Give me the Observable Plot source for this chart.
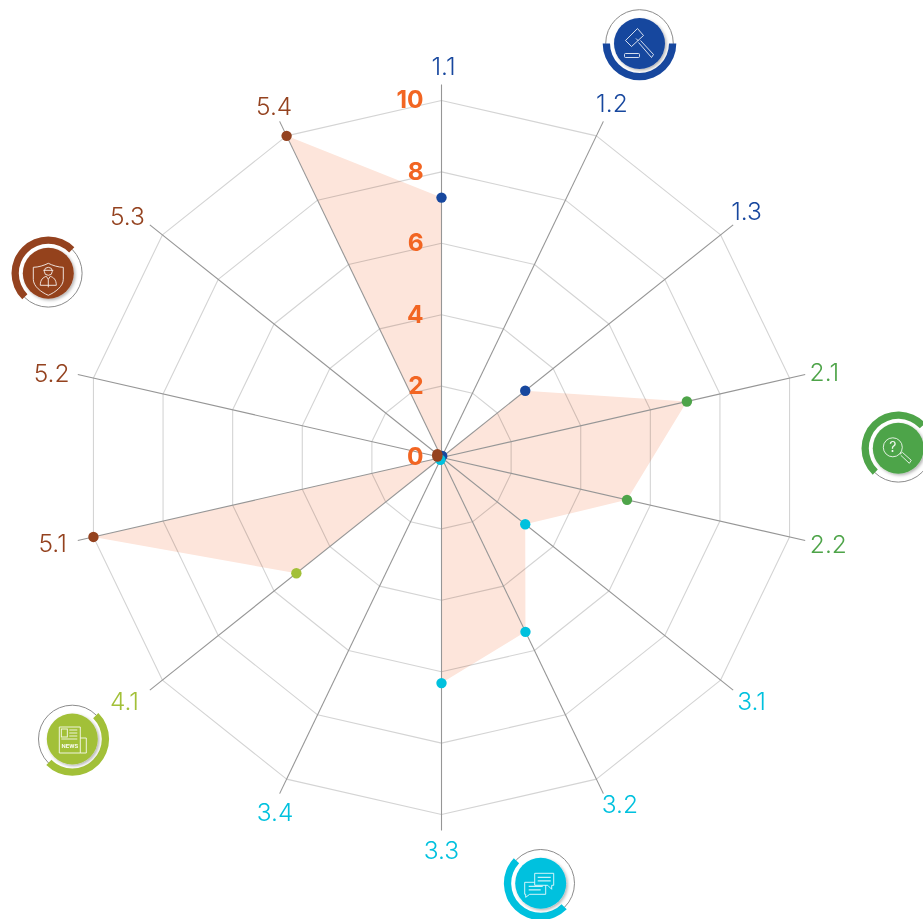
<!DOCTYPE html>
<html><head><meta charset="utf-8">
<style>html,body{margin:0;padding:0;background:#fff}svg{display:block}</style>
<script src="https://cdn.jsdelivr.net/npm/d3@7"></script>
<script src="https://cdn.jsdelivr.net/npm/@observablehq/plot@0.6"></script>
</head><body><div id="chart"></div>
<script>
const categories=["1.1","1.2","1.3","2.1","2.2","3.1","3.2","3.3","3.4","4.1","5.1","5.2","5.3","5.4"];
const values=[7.28,0,3.0,7.05,5.33,3.0,5.42,6.32,0,5.2,10,0,0,10];
const dotValues=[7.28,0.05,3.0,7.05,5.33,3.0,5.42,6.32,0.07,5.2,10,0.12,0.15,10];
const groups=["1","1","1","2","2","3","3","3","3","4","5","5","5","5"];
const ringTicks=[2,4,6,8,10];
const tickLabels=[0,2,4,6,8,10];
const groupColors={"1":"#17479e","2":"#4ea449","3":"#00c1de","4":"#a2c038","5":"#94421f"};
const labelNudgeX=[2,0,-2,0,4,3,8,0,4,-10,-6,-7,-7,3];
const labelNudgeY=[2,0,0,3,0,0,-6,1,2,0,-1,4,5,3];

const W=923,H=919,CX=441,CY=457,U=35.7;
const ang=i=>i*2*Math.PI/categories.length;
const px=(v,i)=>v*Math.sin(ang(i)), py=(v,i)=>v*Math.cos(ang(i));
const idx=categories.map((_,i)=>i);
const font="Inter, 'Noto Sans', sans-serif";

const rings=ringTicks.flatMap(t=>idx.map(i=>({t,x:px(t,i),y:py(t,i)})));
const shape=idx.map(i=>({x:px(values[i],i),y:py(values[i],i)}));
const spokes=idx.map(i=>({x:px(10.45,i),y:py(10.45,i)}));
const points=idx.map(i=>({x:px(dotValues[i],i),y:py(dotValues[i],i),c:groupColors[groups[i]]}));
const labels=idx.map(i=>({x:px(11,i)+labelNudgeX[i]/U,y:py(11,i)-labelNudgeY[i]/U,c:groupColors[groups[i]],s:categories[i]}));

const icons=[
 {k:"gavel",g:"1",cx:639.5,cy:43.5,a0:90,a1:270},
 {k:"search",g:"2",cx:898.3,cy:448.3,a0:-136,a1:47},
 {k:"chat",g:"3",cx:540.7,cy:883.3,a0:135,a1:313},
 {k:"news",g:"4",cx:72.3,cy:739,a0:45,a1:225},
 {k:"shield",g:"5",cx:48.3,cy:273.3,a0:-135,a1:45}
];
const glyphs={
 gavel:`<path d="M-2-15 4-8-8 3-14-3Z"/><path d="M-3.500-5 -1-2.500M1-3 14 11 12 14-1-1"/><rect x="-15" y="10" width="15" height="4" rx="1"/>`,
 search:`<circle cx="-5.500" cy="-1" r="9.500"/><path d="M1.500 6 4 4 13 12 11 15 2.500 7"/><text x="-5.500" y="4" font-size="14" fill="#fff" stroke="none" text-anchor="middle">?</text>`,
 chat:`<path d="M-6-10H13V2H11V6L7 2H-6Z"/><path d="M-6-1H-16V11H-15V14L-11 11H5V2"/><path d="M-3-6H10M-3-2.500H10M-12 3H2M-12 6.500H0" opacity=".85" stroke-width="1.300"/>`,
 news:`<path d="M8 14H-13V-12H8V14H14V-1H8"/><rect x="-11" y="-10" width="6" height="8"/><path d="M-3-9H5M-3-6H5M-3-3H5M-11 0H5"/><text x="-2.500" y="9" font-size="6" font-weight="700" fill="#fff" stroke="none" text-anchor="middle" style="font-family:'Roboto'">NEWS</text>`,
 shield:`<path d="M0-10C-4-8-10-6-15-6V6C-15 13-7 19 0 22 7 19 15 13 15 6V-6C10-6 4-8 0-10Z"/><circle cx="0" cy="-2" r="4"/><path d="M-8 12C-8 6-5 4-2 3L0 6 2 3C5 4 8 6 8 12ZM0 6V14M-5-3H5"/>`
};
const iconMark=()=>{
  const root=d3.create("svg:g");
  root.html(`<defs><filter id="ds" x="-30%" y="-30%" width="170%" height="170%"><feDropShadow dx="1.500" dy="1.500" stdDeviation="1.500" flood-color="#000" flood-opacity=".3"/></filter></defs>`);
  const rad=d=>d*Math.PI/180;
  for(const ic of icons){
    const col=groupColors[ic.g];
    const g=root.append("g").attr("transform",`translate(${ic.cx},${ic.cy})`);
    g.append("circle").attr("r",33.8).attr("fill","none").attr("stroke","#8c8c8c").attr("stroke-width",1);
    g.append("path").attr("fill",col).attr("d",d3.arc()({innerRadius:29.5,outerRadius:36.8,startAngle:rad(ic.a0),endAngle:rad(ic.a1)}));
    g.append("circle").attr("r",25.5).attr("fill",col).attr("filter","url(#ds)");
    g.append("g").attr("fill","none").attr("stroke","#fff").attr("stroke-width",.9).attr("opacity",.92).style("font-family",font).html(glyphs[ic.k]);
  }
  return root.node();
};

const chart=Plot.plot({
  width:W,height:H,margin:0,
  style:{background:"#fff",fontFamily:font},
  x:{type:"linear",domain:[-CX/U,(W-CX)/U],range:[0,W],axis:null},
  y:{type:"linear",domain:[-(H-CY)/U,CY/U],range:[H,0],axis:null},
  marks:[
    Plot.line(shape,{x:"x",y:"y",curve:"linear-closed",fill:"#fde5db",stroke:"none"}),
    Plot.line(rings,{x:"x",y:"y",z:"t",curve:"linear-closed",stroke:"#d4d4d4",strokeWidth:1.1,mixBlendMode:"multiply"}),
    Plot.link(spokes,{x1:()=>0,y1:()=>0,x2:"x",y2:"y",stroke:"#969696",strokeWidth:1.1}),
    Plot.dot(points,{x:"x",y:"y",r:5.2,fill:"c",stroke:"none"}),
    Plot.text(labels,{x:"x",y:"y",text:"s",fill:"c",fontSize:24.5,fontWeight:300,textAnchor:"middle",lineAnchor:"middle"}),
    Plot.text(tickLabels,{x:()=>-0.5,y:d=>d,text:d=>String(d),fill:"#f26522",fontSize:24.5,fontWeight:700,textAnchor:"end",lineAnchor:"middle"}),
    iconMark
  ]
});
document.getElementById("chart").append(chart);
</script></body></html>
